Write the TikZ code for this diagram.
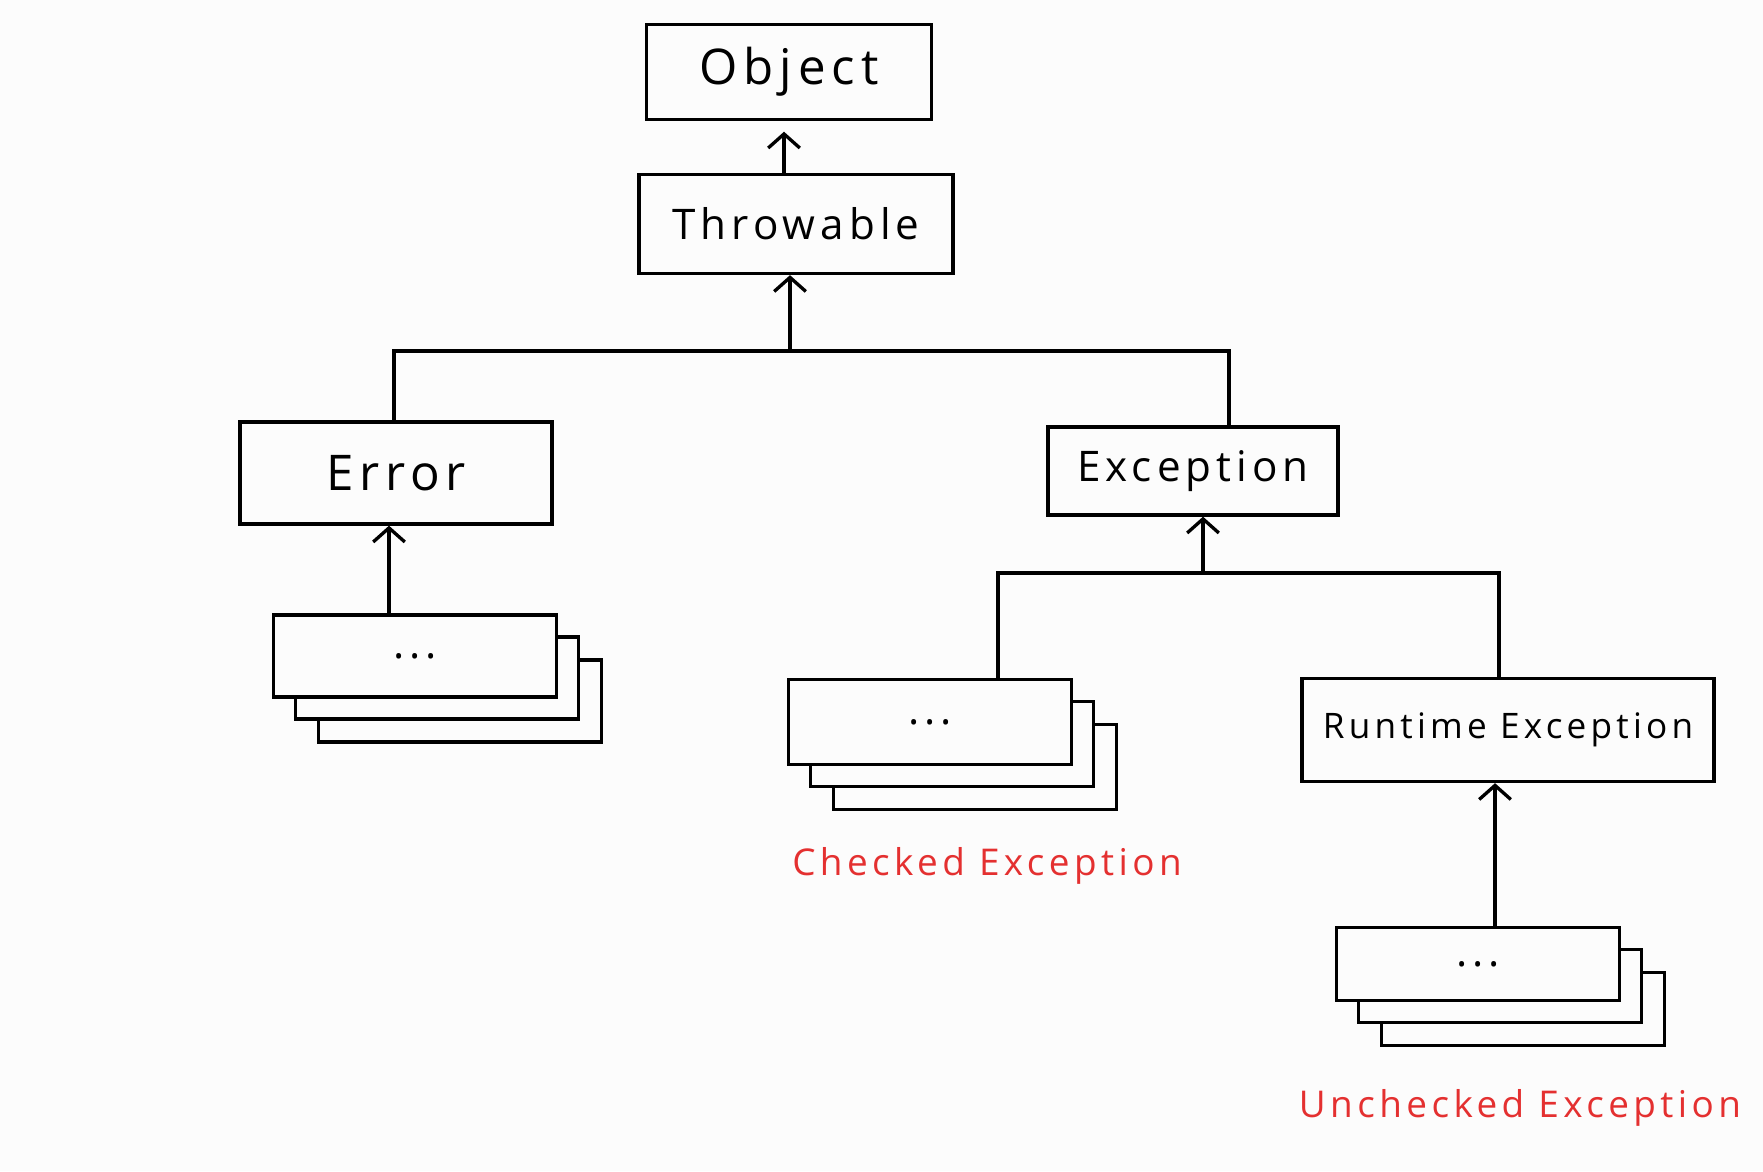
\documentclass[tikz,border=0pt]{standalone}
\usepackage{fontspec}
\usepackage{xcolor}
\usepackage{tikz}
\usetikzlibrary{arrows.meta}
\newfontfamily\handfont[LetterSpace=12]{Open Sans}
\definecolor{paper}{RGB}{252,252,252}
\definecolor{markred}{RGB}{228,48,48}

\begin{document}
\begin{tikzpicture}[x=0.02cm, y=-0.02cm, line width=1.9pt,
    >={Straight Barb[length=8pt,width=18pt,line width=1.9pt]},
    every node/.style={font=\handfont\fontsize{24}{28}\selectfont},
    big/.style={font=\handfont\fontsize{28}{32}\selectfont},
    cls/.style={draw, fill=paper, inner sep=0pt},
    pile/.style={draw, fill=paper, inner sep=0pt, minimum width=5.66cm},
    note/.style={text=markred, font=\handfont\fontsize{21}{25}\selectfont}]
    \fill[paper] (0,0) rectangle (1763,1171);
    \useasboundingbox (0,0) rectangle (1763,1171);
    % classes
    \node[cls,big,minimum width=5.7cm,minimum height=1.9cm] (obj) at (789,72) {Object};
    \node[cls,minimum width=6.28cm,minimum height=1.98cm] (thr) at (796,224) {Throwable};
    \node[cls,big,minimum width=6.24cm,minimum height=2.04cm] (err) at (396,473) {Error};
    \node[cls,minimum width=5.8cm,minimum height=1.76cm] (exc) at (1193,471) {Exception};
    \node[cls,minimum width=8.24cm,minimum height=2.06cm,font=\handfont\fontsize{20}{24}\selectfont] (rte) at (1508,730) {Runtime Exception};
    % piles of subclasses
    \node[pile,minimum height=1.64cm] (errC) at (460,701) {};
    \node[pile,minimum height=1.64cm] (errB) at (437,678) {};
    \node[pile,minimum height=1.64cm] (errA) at (415,656) {...};
    \node[pile,minimum height=1.7cm] (chkC) at (975,767) {};
    \node[pile,minimum height=1.7cm] (chkB) at (952,744) {};
    \node[pile,minimum height=1.7cm] (chkA) at (930,722) {...};
    \node[pile,minimum height=1.46cm] (unC) at (1523,1009) {};
    \node[pile,minimum height=1.46cm] (unB) at (1500,986) {};
    \node[pile,minimum height=1.46cm] (unA) at (1478,964) {...};
    % labels
    \node[note] (chkLbl) at (987,866) {Checked Exception};
    \node[note] (unLbl) at (1520,1108) {Unchecked Exception};
    % connectors
    \coordinate (busL) at (394,351);
    \coordinate (busM) at (790,351);
    \coordinate (busR) at (1229,351);
    \coordinate (subL) at (998,573);
    \coordinate (subM) at (1203,573);
    \coordinate (subR) at (1499,573);
    \draw[->,shorten >=6pt] (thr.north -| 784,0) -- (obj.south -| 784,0);
    \draw[->] (busM) -- (thr.south -| busM);
    \draw (err.north -| busL) -- (busL) -- (busR) -- (busR |- exc.north);
    \draw[->] (errA.north -| 389,0) -- (err.south -| 389,0);
    \draw[->] (subM) -- (exc.south -| subM);
    \draw (chkA.north -| subL) -- (subL) -- (subR) -- (subR |- rte.north);
    \draw[->] (unA.north -| 1495,0) -- (rte.south -| 1495,0);
\end{tikzpicture}
\end{document}
